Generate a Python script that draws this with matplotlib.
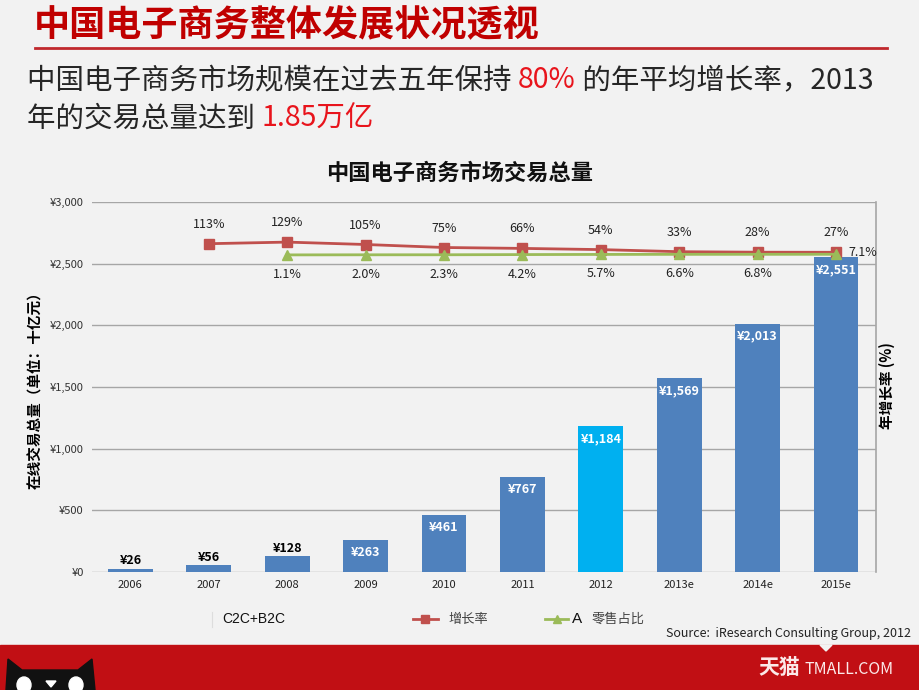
import matplotlib
matplotlib.use("Agg")
import matplotlib.pyplot as plt
from matplotlib.lines import Line2D
from matplotlib.patches import Rectangle, Polygon, Ellipse
import numpy as np

plt.rcParams['font.family'] = ['Noto Sans CJK SC', 'DejaVu Sans']

# ---------------- data ----------------
years = ['2006', '2007', '2008', '2009', '2010', '2011', '2012', '2013e', '2014e', '2015e']
volume = [26, 56, 128, 263, 461, 767, 1184, 1569, 2013, 2551]
growth = [np.nan, 113, 129, 105, 75, 66, 54, 33, 28, 27]
share = [np.nan, np.nan, 1.1, 2.0, 2.3, 4.2, 5.7, 6.6, 6.8, 7.1]
highlight_year = '2012'

W, H = 920, 690
fig = plt.figure(figsize=(W / 100, H / 100), dpi=100)
fig.patch.set_facecolor('#f2f2f2')

def fx(px):
    return px / W

def fy(py):
    return 1 - py / H

# ---------------- header ----------------
fig.text(fx(34), fy(26), '中国电子商务整体发展状况透视', fontsize=26, weight='bold',
         color='#c00000', va='center', ha='left')
fig.add_artist(Line2D([fx(35), fx(887)], [fy(48), fy(48)], color='#c0282d', lw=2))

renderer = fig.canvas.get_renderer()

def rich_line(x0, y, parts, size):
    x = x0
    for txt, col in parts:
        t = fig.text(x, y, txt, fontsize=size, color=col, va='center', ha='left')
        bb = t.get_window_extent(renderer=renderer)
        x += bb.width / W

dark = '#262626'
red = '#e8141c'
rich_line(fx(27), fy(80), [('中国电子商务市场规模在过去五年保持 ', dark), ('80%', red),
                           (' 的年平均增长率，2013', dark)], 20.5)
rich_line(fx(27), fy(119), [('年的交易总量达到 ', dark), ('1.85万亿', red)], 20.5)

# ---------------- chart ----------------
ax = fig.add_axes([fx(92), fy(572), fx(876 - 92), (572 - 202) / H])
ax.set_facecolor('none')
x = np.arange(len(years))
colors = ['#00b0f0' if y == highlight_year else '#4f81bd' for y in years]
bars = ax.bar(x, volume, width=0.57, color=colors, zorder=2)
ax.set_xlim(-0.49, len(years) - 0.49)
ax.set_ylim(0, 3000)
ax.set_yticks(np.arange(0, 3001, 500))
ax.set_yticklabels(['¥{:,}'.format(v) for v in range(0, 3001, 500)], fontsize=8, color='#333333')
ax.set_xticks(x)
ax.set_xticklabels(years, fontsize=8, color='#222222')
ax.tick_params(length=0, pad=6)
ax.grid(axis='y', color='#a6a6a6', lw=1, zorder=0)
for s in ['left', 'top', 'bottom']:
    ax.spines[s].set_visible(False)
ax.spines['right'].set_color('#a6a6a6')
ax.spines['right'].set_linewidth(1.2)

for i, (b, v) in enumerate(zip(bars, volume)):
    if v < 200:
        ax.annotate('¥{:,}'.format(v), (b.get_x() + b.get_width() / 2, v), xytext=(0, 1),
                    textcoords='offset points', ha='center', va='bottom', fontsize=9,
                    weight='bold', color='black', zorder=5)
    else:
        ax.annotate('¥{:,}'.format(v), (b.get_x() + b.get_width() / 2, v), xytext=(0, -9),
                    textcoords='offset points', ha='center', va='center', fontsize=9,
                    weight='bold', color='white', zorder=5)

fig.text(0.5, fy(173), '中国电子商务市场交易总量', fontsize=16, weight='bold',
         color='#111111', ha='center', va='center')
fig.text(fx(35), fy(387), '在线交易总量（单位：十亿元）', rotation=90, fontsize=10.5, weight='bold',
         va='center', ha='center')
fig.text(fx(887), fy(386), '年增长率 (%)', rotation=90, fontsize=10.5, weight='bold',
         va='center', ha='center')

# secondary scale for the rate lines
ax2 = ax.twinx()
ax2.set_ylim(-3170, 530)
ax2.set_yticks([])
for s in ax2.spines.values():
    s.set_visible(False)
ax2.plot(x, growth, color='#c0504d', lw=2, marker='s', ms=7, zorder=4)
ax2.plot(x, share, color='#9bbb59', lw=2, marker='^', ms=7, zorder=4)
for i, g in enumerate(growth):
    if not np.isnan(g):
        ax2.annotate(f'{g:.0f}%', (i, g), xytext=(0, 14), textcoords='offset points',
                     ha='center', va='center', fontsize=9, color='#222222')
for i, s in enumerate(share):
    if np.isnan(s):
        continue
    if i == len(share) - 1:
        ax2.annotate(f'{s:.1f}%', (i, s), xytext=(19, 1), textcoords='offset points',
                     ha='center', va='center', fontsize=9, color='#222222')
    else:
        ax2.annotate(f'{s:.1f}%', (i, s), xytext=(0, -14), textcoords='offset points',
                     ha='center', va='center', fontsize=9, color='#222222')

# ---------------- legend ----------------
ly = fy(619)
fig.add_artist(Line2D([fx(212), fx(212)], [fy(612), fy(627)], color='#dddddd', lw=0.8))
fig.text(fx(222), ly, 'C2C+B2C', fontsize=10, family='Liberation Sans', va='center', color='#111111')
fig.add_artist(Line2D([fx(413), fx(438)], [ly, ly], color='#c0504d', lw=2))
fig.add_artist(Line2D([fx(425.5)], [ly], color='#c0504d', marker='s', ms=6, lw=0))
fig.text(fx(448), ly, '增长率', fontsize=9.5, va='center', color='#444444')
fig.add_artist(Line2D([fx(545), fx(568)], [ly, ly], color='#9bbb59', lw=2))
fig.add_artist(Line2D([fx(556.5)], [ly], color='#9bbb59', marker='^', ms=6, lw=0))
fig.text(fx(572), ly, 'A', fontsize=11, family='Liberation Sans', va='center', color='#111111')
fig.text(fx(592), ly, '零售占比', fontsize=9.5, va='center', color='#444444')
fig.text(fx(911), fy(634), 'Source:  iResearch Consulting Group, 2012', fontsize=9,
         ha='right', va='center', color='#222222')

# ---------------- footer band ----------------
fig.add_artist(Rectangle((0, 0), 1, fy(645), transform=fig.transFigure, color='#c10f14', zorder=1))
fig.add_artist(Polygon([[fx(820), fy(645)], [fx(832), fy(645)], [fx(826), fy(651)]],
                       transform=fig.transFigure, color='#f2f2f2', zorder=2))
fig.text(fx(758), fy(668), '天猫', fontsize=15, color='#fbe9e9', va='center', weight='bold')
fig.text(fx(805), fy(670), 'TMALL.COM', fontsize=11.5, color='#fbe9e9', va='center')
cat = Polygon([[fx(6), fy(690)], [fx(8), fy(659)], [fx(22), fy(670)], [fx(78), fy(670)],
               [fx(92), fy(659)], [fx(95), fy(690)]], transform=fig.transFigure,
              color='#111111', zorder=2)
fig.add_artist(cat)
for ex in (24, 76):
    fig.add_artist(Ellipse((fx(ex), fy(685)), fx(14), 16 / H, transform=fig.transFigure,
                           color='white', zorder=3))
fig.add_artist(Polygon([[fx(46), fy(681)], [fx(56), fy(681)], [fx(51), fy(687)]],
                       transform=fig.transFigure, color='white', zorder=3))

fig.savefig('out.png', dpi=100, facecolor=fig.get_facecolor())
